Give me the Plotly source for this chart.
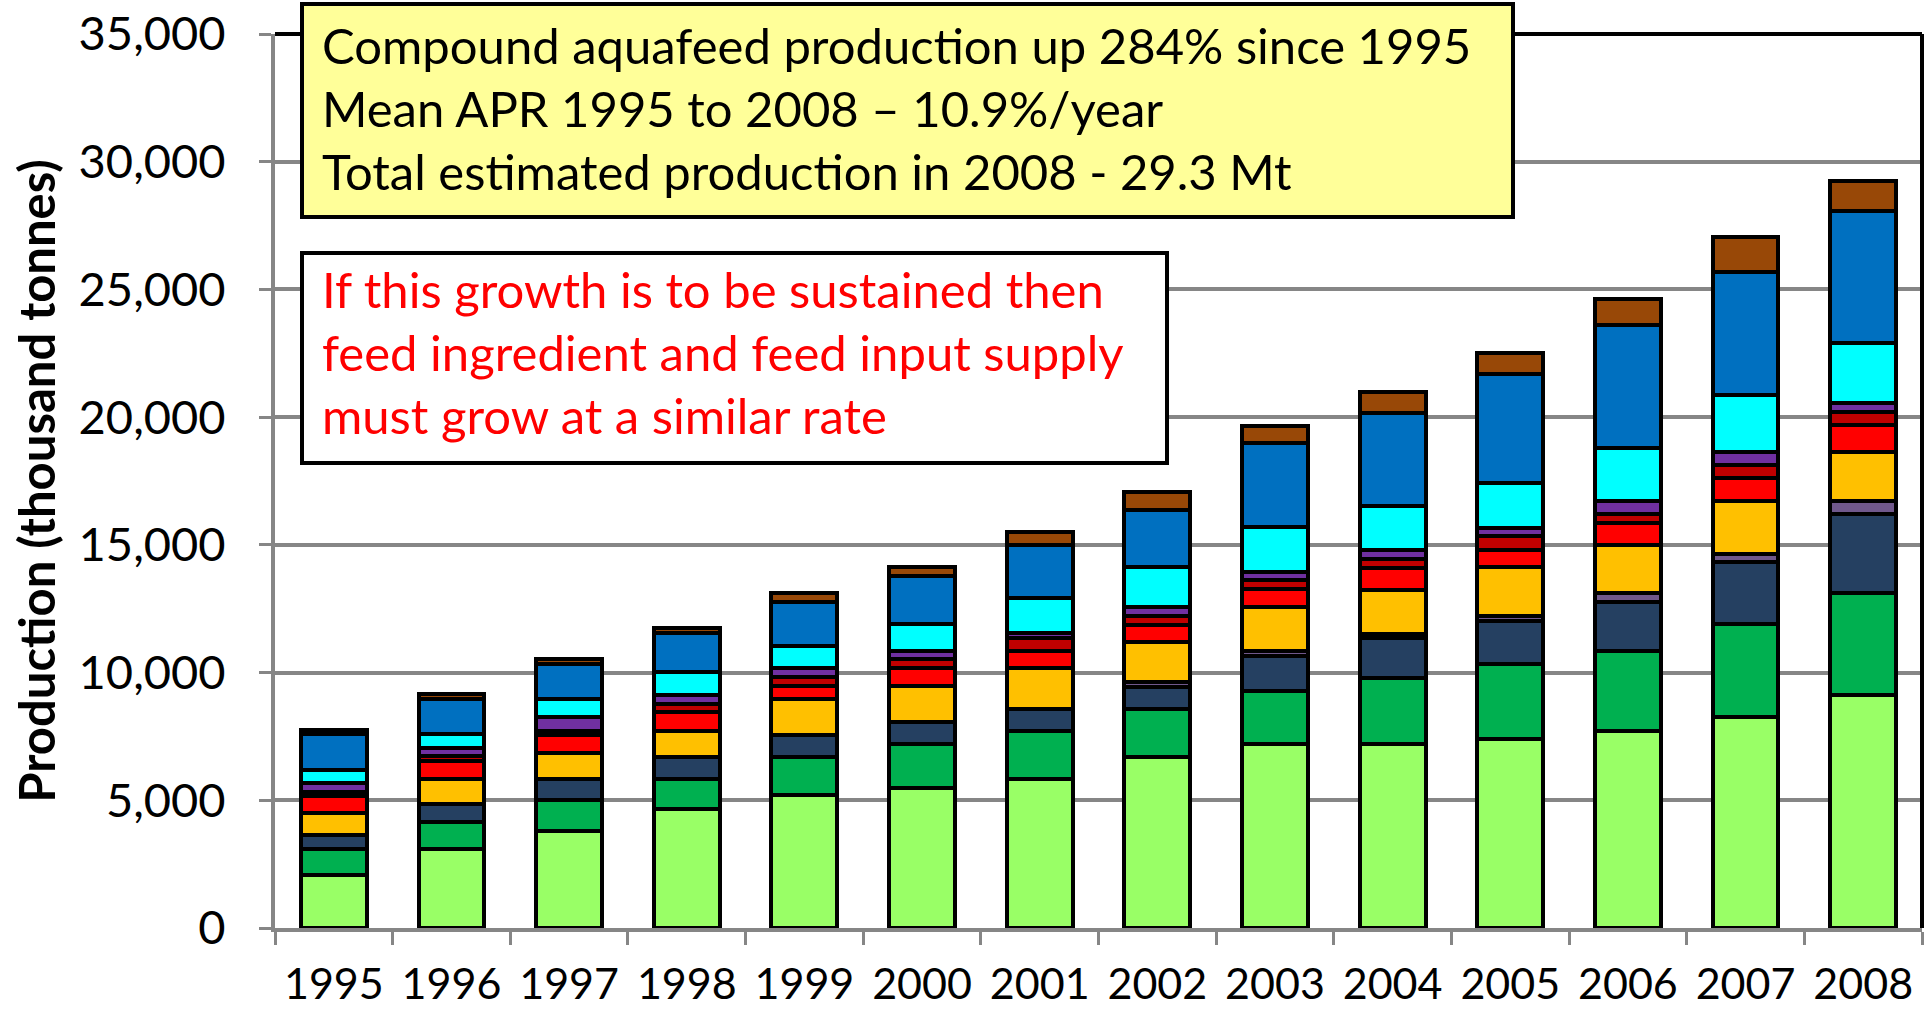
import plotly.graph_objects as go

years = ["1995", "1996", "1997", "1998", "1999", "2000", "2001",
         "2002", "2003", "2004", "2005", "2006", "2007", "2008"]

# thousand tonnes, stacked bottom -> top
s_lightgreen = [2060, 3110, 3790, 4660, 5190, 5480, 5830, 6690, 7200, 7200, 7380, 7710, 8250, 9110]
s_green      = [1050, 1040, 1220, 1180, 1510, 1730, 1890, 1890, 2080, 2590, 2950, 3140, 3640, 4010]
s_navy       = [520, 700, 830, 870, 870, 870, 870, 860, 1380, 1570, 1700, 1910, 2430, 3100]
s_lilac      = [0, 0, 0, 0, 0, 0, 0, 200, 200, 160, 200, 350, 330, 510]
s_orange     = [870, 1000, 1020, 1020, 1380, 1400, 1570, 1560, 1720, 1730, 1890, 1890, 2080, 1910]
s_red        = [670, 670, 710, 710, 540, 710, 690, 680, 680, 860, 690, 870, 870, 1040]
s_darkred    = [160, 200, 160, 340, 330, 330, 520, 350, 350, 350, 520, 350, 540, 510]
s_purple     = [340, 340, 540, 360, 350, 340, 160, 340, 340, 340, 340, 510, 510, 350]
s_cyan       = [510, 530, 680, 870, 860, 1040, 1400, 1550, 1730, 1730, 1740, 2080, 2210, 2380]
s_blue       = [1400, 1380, 1380, 1550, 1730, 1890, 2060, 2240, 3300, 3630, 4270, 4800, 4830, 5160]
s_brown      = [160, 200, 200, 200, 350, 350, 510, 710, 680, 830, 840, 1020, 1380, 1180]

series = [
    (s_lightgreen, "#99FF66"),
    (s_green, "#00B050"),
    (s_navy, "#254061"),
    (s_lilac, "#70588C"),
    (s_orange, "#FFC000"),
    (s_red, "#FF0000"),
    (s_darkred, "#C00000"),
    (s_purple, "#7030A0"),
    (s_cyan, "#00FFFF"),
    (s_blue, "#0070C0"),
    (s_brown, "#984807"),
]

y_ticks = [0, 5000, 10000, 15000, 20000, 25000, 30000, 35000]
y_ticktext = ["0", "5,000", "10,000", "15,000", "20,000", "25,000", "30,000", "35,000"]

box1_lines = ["Compound aquafeed production up 284% since 1995",
              "Mean APR 1995 to 2008 \u2013 10.9%/year",
              "Total estimated production in 2008 - 29.3 Mt"]
box2_lines = ["If this growth is to be sustained then",
              "feed ingredient and feed input supply",
              "must grow at a similar rate"]

W, H = 1930, 1010
L, R, T, B = 275, 8, 34, 82
PW, PH = W - L - R, H - T - B


def px(x):
    return (x - L) / PW


def py(y):
    return (H - B - y) / PH


FONT = "Lato"

fig = go.Figure()
for vals, col in series:
    fig.add_trace(go.Bar(x=years, y=vals, marker=dict(color=col, line=dict(color="black", width=4)),
                         showlegend=False))

shapes = [
    # top and right plot border
    dict(type="line", xref="paper", yref="paper", x0=0, x1=1, y0=1, y1=1,
         line=dict(color="black", width=4), layer="above"),
    dict(type="line", xref="paper", yref="paper", x0=1, x1=1, y0=0, y1=1,
         line=dict(color="black", width=4), layer="above"),
    # text boxes
    dict(type="rect", xref="paper", yref="paper", x0=px(302), x1=px(1513), y0=py(4), y1=py(217),
         fillcolor="#FFFF99", line=dict(color="black", width=4), layer="above"),
    dict(type="rect", xref="paper", yref="paper", x0=px(302), x1=px(1167), y0=py(253), y1=py(463),
         fillcolor="white", line=dict(color="black", width=4), layer="above"),
]

annotations = []
FS = 49
for i, t in enumerate(box1_lines):
    base = 64 + 63 * i
    annotations.append(dict(text=t, xref="paper", yref="paper", x=px(320), y=py(base - 0.387 * FS),
                            xanchor="left", yanchor="middle", showarrow=False,
                            font=dict(family=FONT, size=FS, color="black")))
for i, t in enumerate(box2_lines):
    base = 308 + 63 * i
    annotations.append(dict(text=t, xref="paper", yref="paper", x=px(320), y=py(base - 0.387 * FS),
                            xanchor="left", yanchor="middle", showarrow=False,
                            font=dict(family=FONT, size=FS, color="#FF0000")))

fig.update_layout(
    width=W, height=H,
    margin=dict(l=L, r=R, t=T, b=B, autoexpand=False),
    barmode="stack", bargap=0.44,
    plot_bgcolor="white", paper_bgcolor="white",
    font=dict(family=FONT, color="black"),
    shapes=shapes, annotations=annotations,
    xaxis=dict(
        type="category", showline=True, linecolor="#868686", linewidth=4,
        ticks="outside", tickson="boundaries", ticklen=13, tickwidth=3, tickcolor="#868686",
        tickfont=dict(family=FONT, size=43, color="black"), ticklabelstandoff=15,
        showgrid=False, automargin=False,
    ),
    yaxis=dict(
        range=[0, 35000], tickvals=y_ticks, ticktext=y_ticktext,
        showline=True, linecolor="#868686", linewidth=4,
        ticks="outside", ticklen=12, tickwidth=3, tickcolor="#868686",
        tickfont=dict(family=FONT, size=47, color="black"), ticklabelstandoff=24,
        showgrid=True, gridcolor="#868686", gridwidth=4, zeroline=False,
        title=dict(text="<b>Production (thousand tonnes)</b>", font=dict(family=FONT, size=49, color="black"),
                   standoff=8),
        automargin=False,
    ),
)

fig.write_html("out.html", config={"displayModeBar": False},
               post_script="document.body.style.margin='0';document.body.style.overflow='hidden';")
